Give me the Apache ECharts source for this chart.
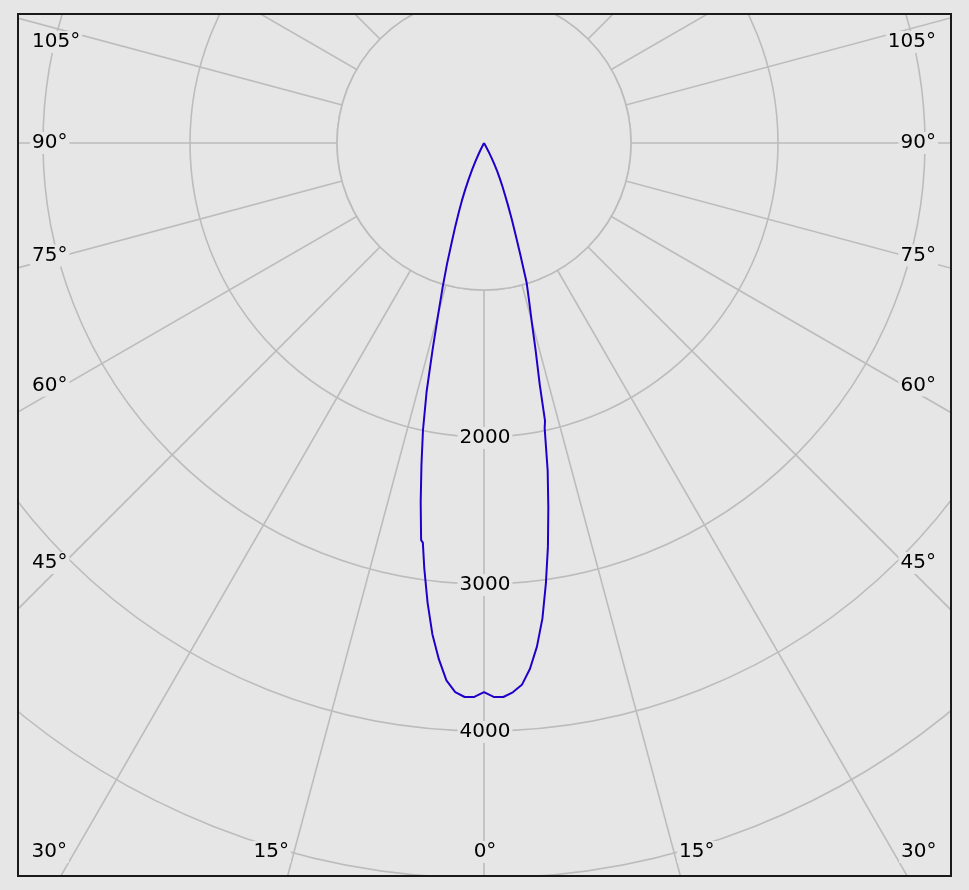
<!DOCTYPE html>
<html>
<head>
<meta charset="utf-8">
<script src="https://cdn.jsdelivr.net/npm/echarts@6/dist/echarts.min.js"></script>
<style>
  html, body { margin: 0; padding: 0; background: #e6e6e6; width: 969px; height: 890px; overflow: hidden; }
  #clip { position: absolute; left: 19px; top: 14px; width: 931px; height: 861px; overflow: hidden; }
  #chart { position: absolute; left: -19px; top: -14px; width: 969px; height: 890px; }
  #frame { position: absolute; left: 17px; top: 13px; width: 935px; height: 864px; box-sizing: border-box; border: 2px solid #1a1a1a; pointer-events: none; }
</style>
</head>
<body>
<div id="clip"><div id="chart"></div></div>
<div id="frame"></div>
<script>
// ---- data ----
// left half-plane (C180): gamma angle (deg from nadir) and intensity
const gammaLeft = [0, 1, 2, 3, 4, 5, 6, 7, 8, 8.7, 9, 10, 11, 12, 13, 14, 15, 16, 17, 18, 19, 20, 21, 22, 23, 24, 25, 26, 27, 28, 30];
const intensityLeft = [3735, 3769, 3771, 3740, 3665, 3525, 3360, 3150, 2920, 2750, 2735, 2480, 2230, 1996, 1735, 1440, 1200, 1020, 860, 710, 600, 500, 420, 340, 265, 200, 140, 85, 40, 10, 0];
// right half-plane (C0)
const gammaRight = [0, 1, 2, 3, 4, 5, 6, 7, 8, 9, 10, 11, 12, 12.38, 12.07, 13, 14, 15, 16, 17, 18, 19, 20, 21, 22, 23, 24, 25, 26, 27, 28, 29, 30];
const intensityRight = [3735, 3769, 3771, 3742, 3695, 3590, 3445, 3260, 3025, 2780, 2520, 2270, 1985, 1936, 1920, 1685, 1450, 1250, 1110, 990, 800, 660, 555, 460, 380, 320, 265, 215, 165, 115, 65, 25, 0];

// tick labels
const sideAngleTicks = [105, 90, 75, 60, 45];
const bottomAngleTicks = [30, 15, 0];
const radiusTickLabels = [2000, 3000, 4000];
const radiusAxisMax = 6000;   // outermost ring lies outside the frame, so radial lines reach the edges
const radiusInterval = 1000;
const angleInterval = 15;

// ---- layout / style ----
const BG = '#e6e6e6';
const GRID = '#bcbcbc';
const CURVE = '#2000c8';
const CX = 484, CY = 143, PX_PER_UNIT = 0.147;
const R = radiusAxisMax * PX_PER_UNIT;
const FONT = '20px "DejaVu Sans", sans-serif';

// Build polar data: left side angle = gamma, right side angle = 360 - gamma
const curve = [];
for (let i = gammaLeft.length - 1; i >= 0; i--) curve.push([intensityLeft[i], gammaLeft[i]]);
for (let i = 0; i < gammaRight.length; i++) curve.push([intensityRight[i], 360 - gammaRight[i]]);

const rad = d => d * Math.PI / 180;
const elements = [];
const txt = (x, y, text, align) => ({
  type: 'text', z: 100, silent: true, x: x, y: y,
  style: { text: text, font: FONT, fill: '#000', align: align, verticalAlign: 'middle',
           backgroundColor: BG, padding: [1, 2] }
});

// radius labels along the 0° direction
radiusTickLabels.forEach(v => elements.push(txt(CX + 1, CY + v * PX_PER_UNIT + 1, String(v), 'center')));

// side angle labels
const leftColX = 64;
sideAngleTicks.forEach(g => {
  let y = CY + (CX - leftColX) / Math.tan(rad(g));
  y = Math.max(y, 42);
  elements.push(txt(30, y, g + '°', 'left'));
  elements.push(txt(938, y, g + '°', 'right'));
});

// bottom angle labels
const rowY = 860, labelY = 852;
bottomAngleTicks.forEach(g => {
  const dx = (rowY - CY) * Math.tan(rad(g));
  if (g === 0) {
    elements.push(txt(CX + 1, labelY, g + '°', 'center'));
  } else {
    elements.push(txt(CX - dx - 1, labelY, g + '°', 'right'));
    elements.push(txt(CX + dx + 1, labelY, g + '°', 'left'));
  }
});

const chart = echarts.init(document.getElementById('chart'), null, { renderer: 'canvas' });
chart.setOption({
  backgroundColor: BG,
  animation: false,
  polar: { center: [CX, CY], radius: R },
  angleAxis: {
    type: 'value', min: 0, max: 360, interval: angleInterval,
    startAngle: 270, clockwise: true,
    axisLine: { show: false },
    axisTick: { show: false },
    axisLabel: { show: false },
    splitLine: { show: true, lineStyle: { color: GRID, width: 1.6 } }
  },
  radiusAxis: {
    type: 'value', min: 0, max: radiusAxisMax, interval: radiusInterval,
    axisLine: { show: false }, axisTick: { show: false }, axisLabel: { show: false },
    splitLine: { show: true, lineStyle: { color: GRID, width: 1.6 } }
  },
  series: [
    {
      type: 'pie', silent: true, z: 1, center: [CX, CY], radius: [0, radiusInterval * PX_PER_UNIT],
      label: { show: false }, labelLine: { show: false },
      itemStyle: { color: BG, borderColor: GRID, borderWidth: 1.6 },
      emphasis: { disabled: true },
      data: [{ value: 1 }]
    },
    {
      type: 'line', coordinateSystem: 'polar', z: 5,
      data: curve, symbol: 'none', smooth: false,
      lineStyle: { color: CURVE, width: 2 }
    }
  ],
  graphic: { elements: elements }
});
</script>
</body>
</html>
